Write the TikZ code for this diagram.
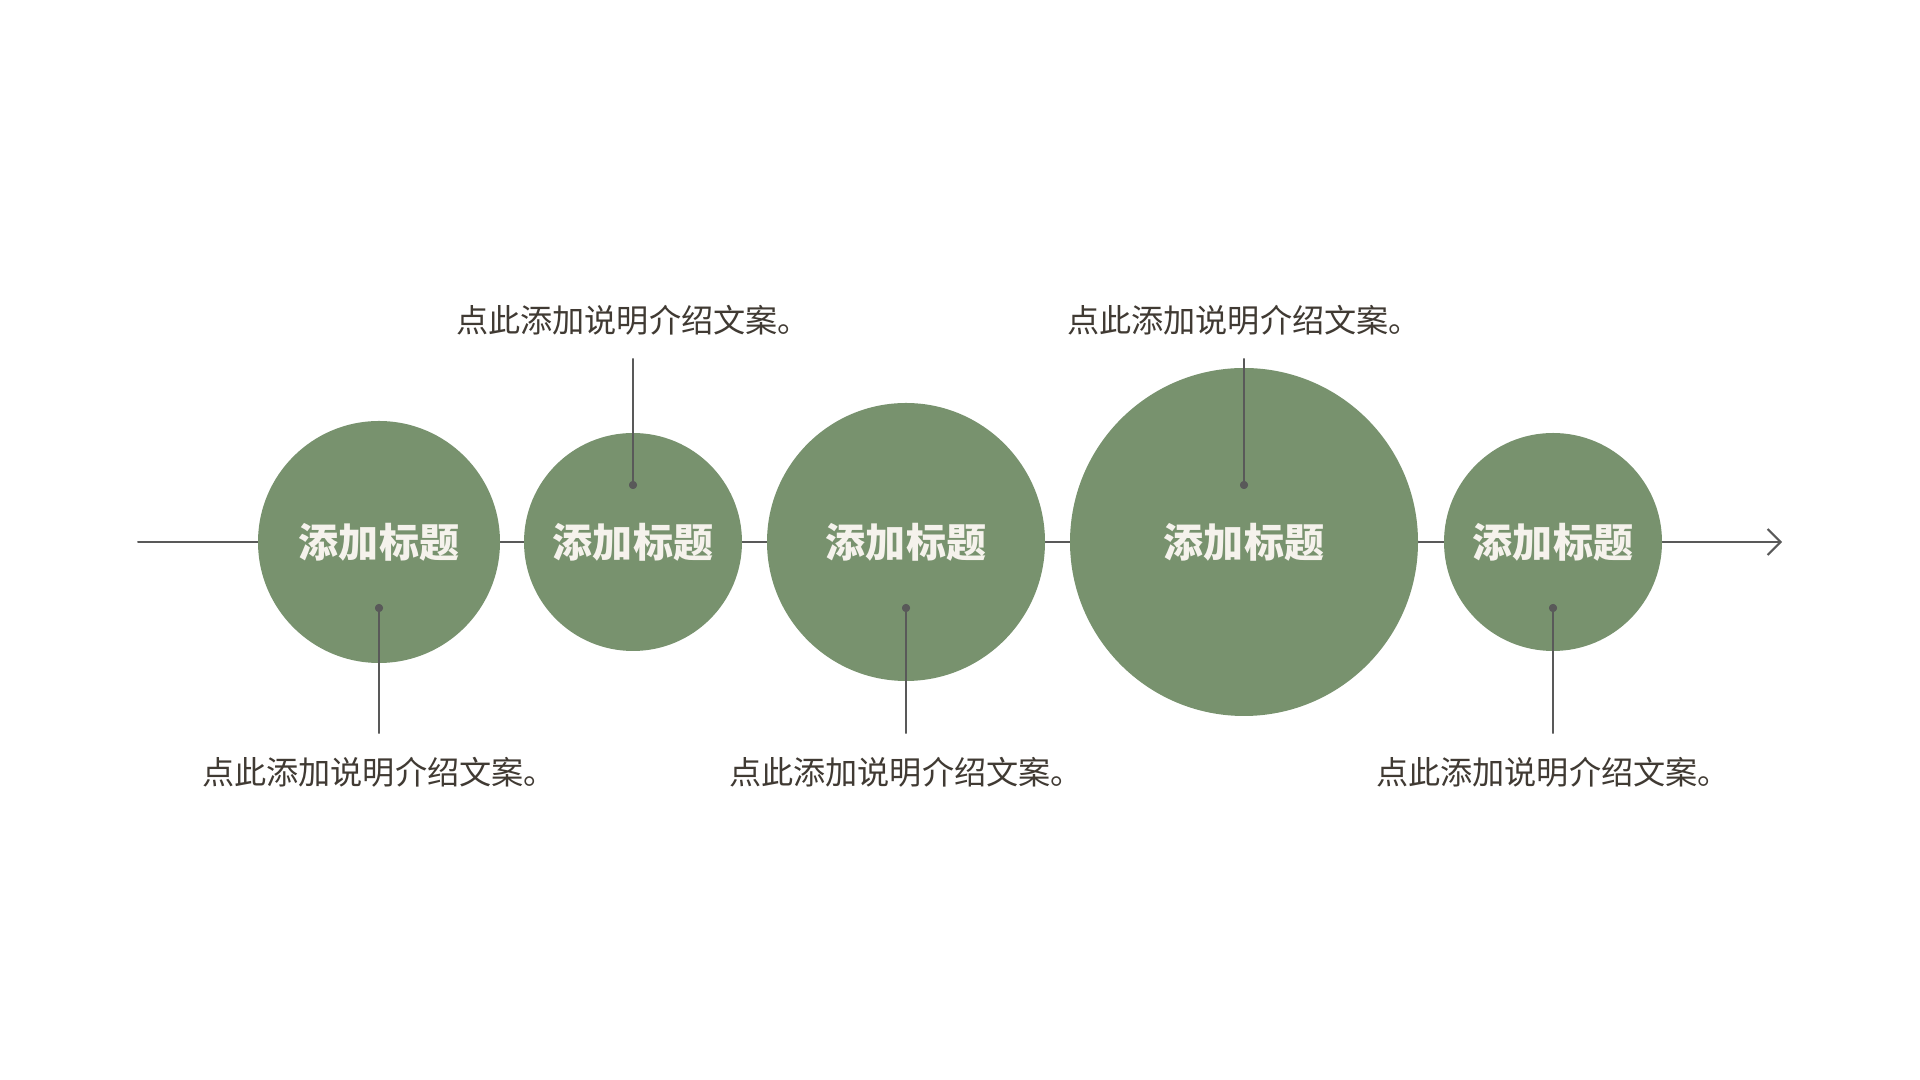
\documentclass[tikz,border=0pt]{standalone}
\usepackage{fontspec}
\newfontfamily\cjk{Noto Sans CJK SC}
\usetikzlibrary{arrows.meta}
\definecolor{leafgreen}{HTML}{78926E}
\definecolor{inkbrown}{HTML}{403A33}
\definecolor{axisgray}{HTML}{595959}
\definecolor{titlewhite}{HTML}{F5F2EC}

\begin{document}
\begin{tikzpicture}[line cap=round,line join=round,x=1cm,y=1cm,
    bubble/.style={circle,fill=leafgreen,inner sep=0pt,minimum size=#1,text=titlewhite,
        font=\cjk\bfseries\fontsize{11.4}{12}\selectfont},
    note/.style={text=inkbrown,font=\cjk\fontsize{9.15}{10}\selectfont,
        text height=6.95pt,text depth=0pt,inner ysep=7.35pt},
    lead/.style={axisgray,line width=0.35pt},
    pin/.style={circle,fill=axisgray,inner sep=0pt,minimum size=0.08cm}]
    \useasboundingbox (0,0) rectangle (19.2,10.8);
    % axis
    \coordinate (start) at (1.38,5.38);
    \coordinate (tip) at (17.82,5.38);
    \draw [axisgray,line width=0.57pt,-{Straight Barb[length=1.3mm,width=2.6mm]}] (start)-- (tip);
    % bubbles
    \node[bubble=2.42cm] (c1) at (3.79,5.38) {添加标题};
    \node[bubble=2.18cm] (c2) at (6.33,5.38) {添加标题};
    \node[bubble=2.78cm] (c3) at (9.06,5.38) {添加标题};
    \node[bubble=3.48cm] (c4) at (12.44,5.38) {添加标题};
    \node[bubble=2.18cm] (c5) at (15.53,5.38) {添加标题};
    % notes
    \node[note] (t1) at (3.79,3.08) {点此添加说明介绍文案。};
    \node[note] (t2) at (6.33,7.60) {点此添加说明介绍文案。};
    \node[note] (t3) at (9.06,3.08) {点此添加说明介绍文案。};
    \node[note] (t4) at (12.44,7.60) {点此添加说明介绍文案。};
    \node[note] (t5) at (15.53,3.08) {点此添加说明介绍文案。};
    % pins
    \node[pin] (p1) at (3.79,4.72) {};
    \node[pin] (p2) at (6.33,5.95) {};
    \node[pin] (p3) at (9.06,4.72) {};
    \node[pin] (p4) at (12.44,5.95) {};
    \node[pin] (p5) at (15.53,4.72) {};
    \draw [lead] (p1.center)-- (t1.north);
    \draw [lead] (t2.south)-- (p2.center);
    \draw [lead] (p3.center)-- (t3.north);
    \draw [lead] (t4.south)-- (p4.center);
    \draw [lead] (p5.center)-- (t5.north);
    \node[pin] at (p1) {};
    \node[pin] at (p2) {};
    \node[pin] at (p3) {};
    \node[pin] at (p4) {};
    \node[pin] at (p5) {};
\end{tikzpicture}
\end{document}
